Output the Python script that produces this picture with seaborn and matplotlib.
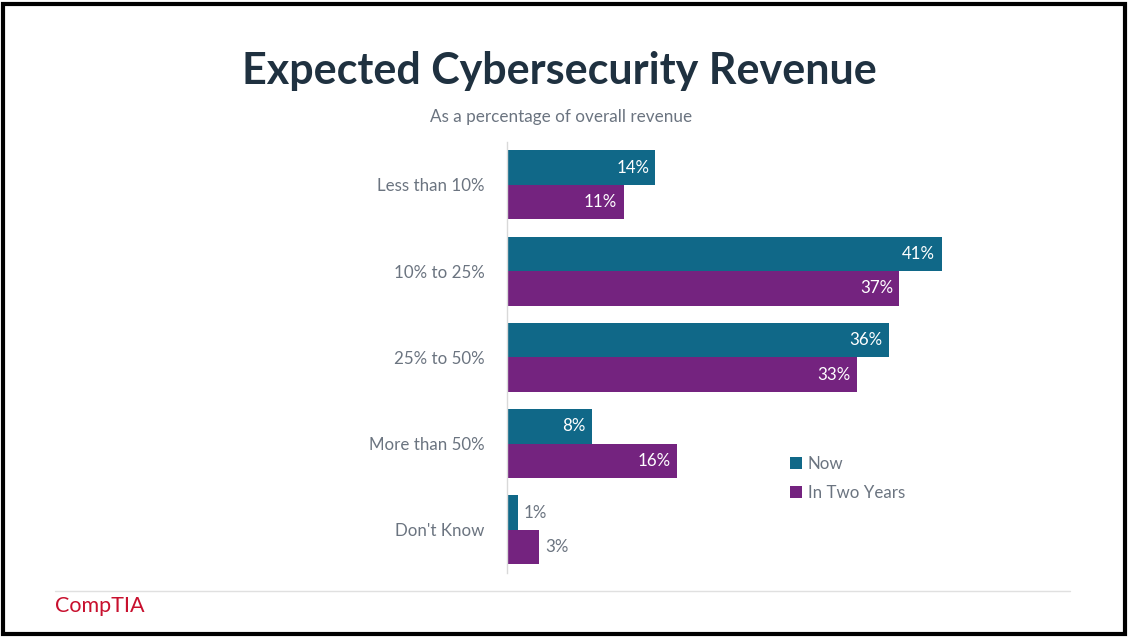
import pandas as pd
import matplotlib
matplotlib.use("Agg")
import matplotlib.pyplot as plt
import seaborn as sns
from matplotlib.patches import Rectangle

categories = ["Less than 10%", "10% to 25%", "25% to 50%", "More than 50%", "Don't Know"]
now = [14, 41, 36, 8, 1]
two_years = [11, 37, 33, 16, 3]
series = ["Now", "In Two Years"]

df = pd.DataFrame({
    "category": categories * 2,
    "value": now + two_years,
    "series": [series[0]] * len(categories) + [series[1]] * len(categories),
})

sns.set_theme(style="white")
plt.rcParams["font.family"] = ["Lato", "DejaVu Sans"]

fig = plt.figure(figsize=(11.28, 6.38), dpi=100)
ax = fig.add_axes([0.4495, 0.102, 0.5, 0.676])

palette = {"Now": "#106888", "In Two Years": "#74237f"}
sns.barplot(data=df, y="category", x="value", hue="series", order=categories,
            hue_order=series, palette=palette, orient="h", width=0.8,
            saturation=1, linewidth=0, ax=ax, legend=True)

ax.set_xlim(0, 53.2)
ax.set_ylim(4.5, -0.5)
ax.set_xlabel("")
ax.set_ylabel("")
ax.set_xticks([])
for s in ["top", "right", "bottom"]:
    ax.spines[s].set_visible(False)
ax.spines["left"].set_color("#d9d9d9")
ax.spines["left"].set_linewidth(1)
ax.tick_params(axis="y", length=0, pad=16, labelsize=12.2, labelcolor="#6b7480")

for cont in ax.containers:
    for bar in cont:
        w = bar.get_width()
        y = bar.get_y() + bar.get_height() / 2
        if w >= 5:
            ax.text(w - 0.6, y, f"{w:.0f}%", ha="right", va="center",
                    color="white", fontsize=12.2)
        else:
            ax.text(w + 0.6, y, f"{w:.0f}%", ha="left", va="center",
                    color="#6b7480", fontsize=12.2)

leg = ax.legend(loc="upper left", bbox_to_anchor=(0.475, 0.307), frameon=False,
                fontsize=12.2, handlelength=0.7, handleheight=0.7,
                handletextpad=0.35, labelspacing=0.8)
for t in leg.get_texts():
    t.set_color("#6b7480")

fig.text(0.496, 0.888, "Expected Cybersecurity Revenue", ha="center", va="center",
         fontsize=31, fontweight="bold", color="#1f3140")
fig.text(0.497, 0.816, "As a percentage of overall revenue", ha="center", va="center",
         fontsize=12.3, color="#6b7480")

fig.add_artist(plt.Line2D([0.049, 0.949], [0.074, 0.074], color="#e0e0e0", lw=1))
fig.text(0.049, 0.05, "CompTIA", ha="left", va="center", fontsize=15.5,
         color="#c8102e")
fig.add_artist(Rectangle((0.003, 0.006), 0.994, 0.988, transform=fig.transFigure,
                         fill=False, edgecolor="black", lw=3))

fig.savefig("out.png", dpi=100)
